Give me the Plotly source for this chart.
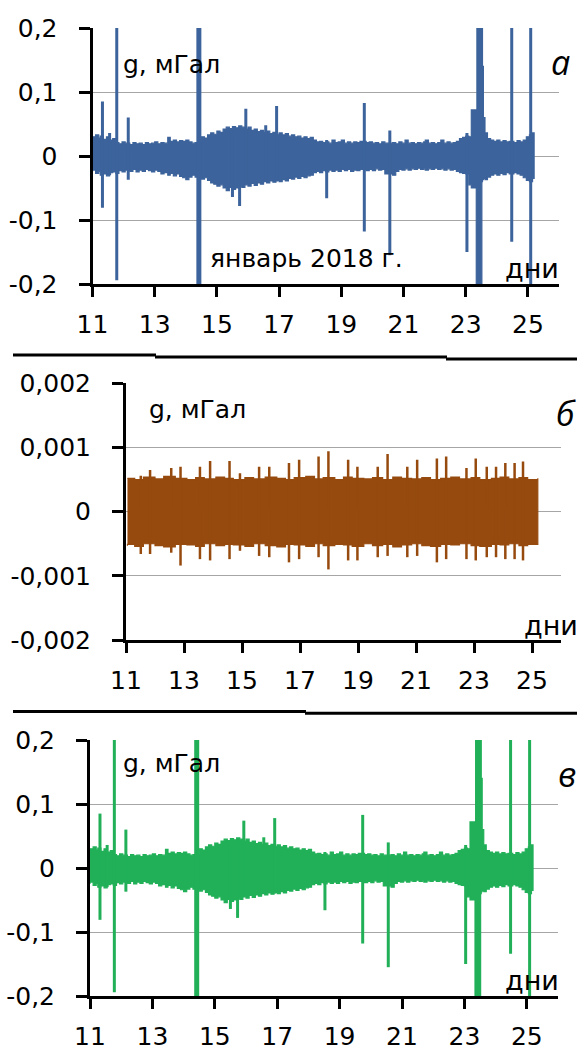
import plotly.graph_objects as go

# ---------------- data ----------------
x_ticks = [11, 13, 15, 17, 19, 21, 23, 25]
x_labels = ["11", "13", "15", "17", "19", "21", "23", "25"]

y_ticks_mgal = [-0.2, -0.1, 0.0, 0.1, 0.2]
y_labels_mgal = ["-0,2", "-0,1", "0", "0,1", "0,2"]

y_ticks_small = [-0.002, -0.001, 0.0, 0.001, 0.002]
y_labels_small = ["-0,002", "-0,001", "0", "0,001", "0,002"]

# envelope of the raw record (panels a and v), mGal
env_day = [11.00, 11.10, 11.20, 11.25, 11.35, 11.45, 11.55, 11.65, 11.75, 11.85,
           11.95, 12.05, 12.20, 12.30, 12.40, 12.50, 12.60, 12.70, 12.80, 12.90,
           13.00, 13.10, 13.20, 13.30, 13.42, 13.50, 13.60, 13.70, 13.80, 13.90,
           14.00, 14.10, 14.20, 14.30, 14.50, 14.60, 14.70, 14.80, 14.90, 15.00,
           15.10, 15.20, 15.30, 15.40, 15.50, 15.60, 15.70, 15.80, 15.90, 16.00,
           16.10, 16.20, 16.30, 16.40, 16.50, 16.60, 16.70, 16.80, 16.90, 17.00,
           17.10, 17.20, 17.30, 17.40, 17.50, 17.60, 17.70, 17.80, 17.90, 18.00,
           18.10, 18.20, 18.30, 18.40, 18.50, 18.60, 18.70, 18.80, 18.90, 19.00,
           19.10, 19.20, 19.30, 19.40, 19.50, 19.60, 19.80, 19.90, 20.00, 20.10,
           20.20, 20.30, 20.40, 20.65, 20.75, 20.85, 20.95, 21.05, 21.15, 21.25,
           21.35, 21.45, 21.55, 21.65, 21.70, 21.80, 21.90, 22.00, 22.10, 22.20,
           22.30, 22.40, 22.50, 22.60, 22.70, 22.80, 22.90, 23.00, 23.10, 23.18,
           23.34, 23.36, 23.52, 23.54, 23.57, 23.62, 23.70, 23.80, 23.90, 24.00,
           24.10, 24.20, 24.30, 24.40, 24.55, 24.65, 24.75, 24.85, 24.95, 25.05,
           25.15, 25.20]
env_hi = [0.030, 0.033, 0.028, 0.031, 0.026, 0.030, 0.025, 0.027, 0.021, 0.019,
          0.022, 0.020, 0.018, 0.021, 0.019, 0.020, 0.018, 0.021, 0.019, 0.020,
          0.022, 0.019, 0.021, 0.020, 0.029, 0.023, 0.025, 0.022, 0.024, 0.023,
          0.025, 0.022, 0.020, 0.021, 0.030, 0.028, 0.033, 0.036, 0.034, 0.039,
          0.037, 0.042, 0.045, 0.043, 0.046, 0.044, 0.047, 0.045, 0.042, 0.045,
          0.040, 0.042, 0.038, 0.040, 0.037, 0.039, 0.035, 0.037, 0.034, 0.036,
          0.033, 0.035, 0.031, 0.033, 0.030, 0.031, 0.028, 0.030, 0.027, 0.029,
          0.025, 0.022, 0.023, 0.021, 0.022, 0.020, 0.025, 0.021, 0.022, 0.025,
          0.020, 0.022, 0.020, 0.022, 0.021, 0.023, 0.021, 0.022, 0.020, 0.021,
          0.019, 0.022, 0.020, 0.021, 0.019, 0.022, 0.020, 0.025, 0.020, 0.021,
          0.019, 0.021, 0.020, 0.022, 0.025, 0.020, 0.021, 0.019, 0.021, 0.025,
          0.020, 0.022, 0.020, 0.021, 0.023, 0.027, 0.029, 0.031, 0.030, 0.072,
          0.072, 0.300, 0.300, 0.140, 0.060, 0.036, 0.027, 0.025, 0.023, 0.025,
          0.022, 0.024, 0.022, 0.023, 0.021, 0.024, 0.022, 0.025, 0.030, 0.033,
          0.036, 0.030]
env_lo = [-0.025, -0.022, -0.027, -0.024, -0.030, -0.028, -0.031, -0.026, -0.025, -0.027,
          -0.023, -0.025, -0.022, -0.024, -0.021, -0.025, -0.022, -0.024, -0.021, -0.023,
          -0.025, -0.022, -0.024, -0.028, -0.026, -0.030, -0.027, -0.031, -0.028, -0.032,
          -0.034, -0.037, -0.033, -0.030, -0.033, -0.036, -0.034, -0.038, -0.042, -0.044,
          -0.047, -0.045, -0.050, -0.054, -0.049, -0.052, -0.050, -0.047, -0.049, -0.045,
          -0.047, -0.043, -0.046, -0.042, -0.044, -0.040, -0.042, -0.039, -0.041, -0.038,
          -0.040, -0.037, -0.039, -0.035, -0.036, -0.033, -0.035, -0.032, -0.034, -0.031,
          -0.030, -0.026, -0.024, -0.026, -0.023, -0.025, -0.022, -0.024, -0.022, -0.024,
          -0.021, -0.023, -0.021, -0.024, -0.022, -0.023, -0.021, -0.023, -0.021, -0.023,
          -0.020, -0.022, -0.021, -0.028, -0.030, -0.024, -0.021, -0.022, -0.020, -0.022,
          -0.020, -0.021, -0.019, -0.021, -0.020, -0.022, -0.020, -0.021, -0.019, -0.021,
          -0.020, -0.022, -0.020, -0.022, -0.021, -0.024, -0.026, -0.027, -0.028, -0.045,
          -0.050, -0.300, -0.300, -0.040, -0.037, -0.035, -0.037, -0.033, -0.030, -0.028,
          -0.030, -0.027, -0.029, -0.026, -0.028, -0.026, -0.028, -0.030, -0.034, -0.038,
          -0.040, -0.035]

# isolated spikes in the raw record, mGal
spike_day = [11.32, 11.55, 11.78, 12.15, 15.50, 15.73, 15.93, 16.57, 16.92,
             18.53, 19.74, 20.56, 23.04, 24.48, 25.09]
spike_hi = [0.085, 0.036, 0.300, 0.060, 0.040, 0.045, 0.074, 0.048, 0.078,
            0.025, 0.083, 0.040, 0.036, 0.300, 0.300]
spike_lo = [-0.081, -0.030, -0.194, -0.037, -0.064, -0.078, -0.045, -0.040, -0.040,
            -0.066, -0.118, -0.155, -0.150, -0.134, -0.300]
wide_spike_day = [14.42]
wide_spike_hi = [0.300]
wide_spike_lo = [-0.300]

# residual record (panel b), mGal
res_day = [11.05, 11.30, 11.60, 12.00, 12.30, 12.70, 13.10, 13.40, 13.70, 14.10,
           14.40, 14.70, 15.10, 15.40, 15.80, 16.20, 16.50, 16.80, 17.20, 17.50,
           17.80, 18.20, 18.50, 18.80, 19.20, 19.50, 19.85, 20.20, 20.50, 20.85,
           21.20, 21.50, 21.85, 22.20, 22.50, 22.90, 23.20, 23.60, 23.90, 24.20,
           24.55, 24.85, 25.20]
res_hi = [0.00052, 0.00050, 0.00054, 0.00051, 0.00055, 0.00052, 0.00050, 0.00053, 0.00051, 0.00054,
          0.00052, 0.00050, 0.00053, 0.00051, 0.00054, 0.00052, 0.00050, 0.00053, 0.00055, 0.00051,
          0.00053, 0.00050, 0.00054, 0.00052, 0.00051, 0.00053, 0.00050, 0.00054, 0.00052, 0.00051,
          0.00053, 0.00050, 0.00052, 0.00054, 0.00051, 0.00053, 0.00050, 0.00052, 0.00054, 0.00051,
          0.00053, 0.00050, 0.00052]
res_lo = [-0.00053, -0.00051, -0.00054, -0.00050, -0.00053, -0.00055, -0.00051, -0.00052, -0.00054, -0.00050,
          -0.00053, -0.00051, -0.00052, -0.00054, -0.00050, -0.00053, -0.00055, -0.00051, -0.00052, -0.00054,
          -0.00050, -0.00053, -0.00051, -0.00052, -0.00054, -0.00050, -0.00053, -0.00051, -0.00055, -0.00052,
          -0.00050, -0.00053, -0.00054, -0.00051, -0.00052, -0.00050, -0.00053, -0.00054, -0.00051, -0.00052,
          -0.00050, -0.00053, -0.00051]
res_spike_day = [11.51, 11.83, 12.56, 12.88, 13.55, 13.90, 14.57, 14.93, 15.59, 15.94,
                 16.62, 16.97, 17.64, 17.98, 18.66, 18.98, 19.68, 20.02, 20.70, 21.04,
                 21.72, 22.04, 22.74, 23.06, 23.44, 23.76, 24.08, 24.40, 24.69]
res_spike_hi = [0.00056, 0.00065, 0.00068, 0.00070, 0.00070, 0.00079, 0.00079, 0.00060, 0.00070, 0.00070,
                0.00076, 0.00081, 0.00086, 0.00094, 0.00081, 0.00070, 0.00070, 0.00090, 0.00070, 0.00081,
                0.00083, 0.00086, 0.00068, 0.00083, 0.00070, 0.00070, 0.00076, 0.00076, 0.00078]
res_spike_lo = [-0.00066, -0.00066, -0.00064, -0.00084, -0.00074, -0.00076, -0.00074, -0.00061, -0.00069, -0.00071,
                -0.00079, -0.00074, -0.00071, -0.00090, -0.00076, -0.00076, -0.00071, -0.00069, -0.00071, -0.00069,
                -0.00079, -0.00074, -0.00074, -0.00076, -0.00071, -0.00071, -0.00074, -0.00074, -0.00076]

BLUE = "#3C639B"
BROWN = "#964A0E"
GREEN = "#21B058"

# ---------------- figure ----------------
W, H = 577, 1050
FONT = "DejaVu Sans"


def px(xp):
    return xp / W


def py(yp):
    return 1 - yp / H


def segments(days, hi, lo):
    xs, ys = [], []
    for d, a, b in zip(days, hi, lo):
        xs += [d, d, None]
        ys += [a, b, None]
    return xs, ys


def band(days, hi, lo, color, xa, ya):
    return go.Scatter(
        x=list(days) + list(days[::-1]),
        y=list(hi) + list(lo[::-1]),
        mode="lines", fill="toself", fillcolor=color,
        line=dict(color=color, width=1.2, shape="hv"),
        hoverinfo="skip", showlegend=False, xaxis=xa, yaxis=ya)


def spikes(days, hi, lo, color, width, xa, ya):
    xs, ys = segments(days, hi, lo)
    return go.Scatter(x=xs, y=ys, mode="lines",
                      line=dict(color=color, width=width),
                      hoverinfo="skip", showlegend=False, xaxis=xa, yaxis=ya)


fig = go.Figure()

panels = [
    ("x", "y", BLUE, env_day, env_hi, env_lo, True),
    ("x2", "y2", BROWN, res_day, res_hi, res_lo, False),
    ("x3", "y3", GREEN, env_day, env_hi, env_lo, True),
]
for xa, ya, col, d, hi, lo, raw in panels:
    fig.add_trace(band(d, hi, lo, col, xa, ya))
    if raw:
        fig.add_trace(spikes(spike_day, spike_hi, spike_lo, col, 3, xa, ya))
        fig.add_trace(spikes(wide_spike_day, wide_spike_hi, wide_spike_lo, col, 5, xa, ya))
    else:
        fig.add_trace(spikes(res_spike_day, res_spike_hi, res_spike_lo, col, 2.5, xa, ya))

tickfont = dict(family=FONT, size=25, color="black")


def xaxis(left, right, anchor):
    return dict(domain=[px(left), px(right)], anchor=anchor, automargin=False,
                range=[11, 26], tickmode="array", tickvals=x_ticks, ticktext=x_labels,
                ticks="outside", ticklen=10, tickwidth=3, tickcolor="black",
                showline=True, linewidth=3, linecolor="black",
                showgrid=False, zeroline=False, tickfont=tickfont,
                ticklabelstandoff=6, fixedrange=True)


def yaxis(top, bottom, anchor, rng, vals, labels, standoff):
    return dict(domain=[py(bottom), py(top)], anchor=anchor, automargin=False,
                range=rng, tickmode="array", tickvals=vals, ticktext=labels,
                ticks="outside", ticklen=11, tickwidth=3, tickcolor="black",
                showline=True, linewidth=3, linecolor="black",
                showgrid=True, gridcolor="#A6A6A6", gridwidth=1,
                zeroline=False, tickfont=tickfont,
                ticklabelstandoff=standoff, fixedrange=True)


# plot areas in pixels: (left, right, top, bottom)
A = (92.5, 559.0, 28.0, 284.0)
B = (126.0, 561.0, 383.3, 640.0)
V = (90.0, 558.0, 740.0, 996.0)

fig.update_layout(
    width=W, height=H, autosize=False,
    margin=dict(l=0, r=0, t=0, b=0, pad=0),
    paper_bgcolor="white", plot_bgcolor="white",
    showlegend=False,
    xaxis=xaxis(A[0], A[1], "y"),
    yaxis=yaxis(A[2], A[3], "x", [-0.2, 0.2], y_ticks_mgal, y_labels_mgal, 16),
    xaxis2=xaxis(B[0], B[1], "y2"),
    yaxis2=yaxis(B[2], B[3], "x2", [-0.002, 0.002], y_ticks_small, y_labels_small, 16),
    xaxis3=xaxis(V[0], V[1], "y3"),
    yaxis3=yaxis(V[2], V[3], "x3", [-0.2, 0.2], y_ticks_mgal, y_labels_mgal, 16),
)


# captions
def note(text, xp, yp, size, anchor="left", italic=False, family=FONT):
    fig.add_annotation(text=text, x=px(xp), y=py(yp), xref="paper", yref="paper",
                       xanchor=anchor, yanchor="middle", showarrow=False,
                       font=dict(family=family, size=size, color="black",
                                 style="italic" if italic else "normal"))


note("g, мГал", 121, 64, 25)
note("январь 2018 г.", 208, 258, 25)
note("дни", 503, 268, 27)
note("а", 549, 62, 34, italic=True, family="Open Sans")

note("g, мГал", 147, 409, 25)
note("дни", 522, 625, 27)
note("б", 554, 413, 34, italic=True, family="Open Sans")

note("g, мГал", 121, 763, 25)
note("дни", 503, 980, 27)
note("в", 556, 774, 34, italic=True, family="Open Sans")

# separators between panels
for x0, x1, y in [(13, 156, 355), (155, 447, 357), (446, 577, 359),
                  (13, 306, 711.5), (305, 577, 713.3)]:
    fig.add_shape(type="line", xref="paper", yref="paper",
                  x0=px(x0), x1=px(x1), y0=py(y), y1=py(y),
                  line=dict(color="black", width=3))

fig.write_html("out.html", config={"displayModeBar": False})
